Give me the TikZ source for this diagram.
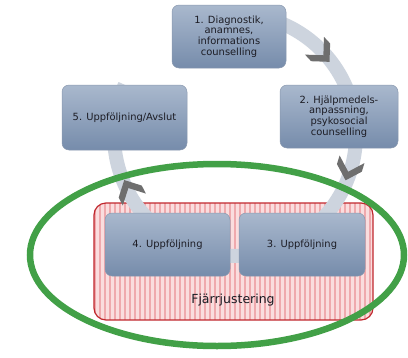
\documentclass[tikz,border=0pt]{standalone}
\usepackage{fontspec}
\setmainfont{DejaVu Sans}
\definecolor{boxtop}{HTML}{A9B8CD}
\definecolor{boxbot}{HTML}{768CAB}
\definecolor{boxedge}{HTML}{8A99AF}
\definecolor{bandcol}{HTML}{CDD4DE}
\definecolor{chevcol}{HTML}{6E6E6E}
\definecolor{ringcol}{HTML}{42A047}
\definecolor{redline}{HTML}{C0272D}
\definecolor{pinkbg}{HTML}{FADDDE}
\definecolor{pinkstripe}{HTML}{EFA9AD}
\definecolor{txt}{HTML}{1C1C24}
\begin{document}
\begin{tikzpicture}[x=1pt,y=-1pt,
  stepbox/.style={rounded corners=7pt, top color=boxtop, bottom color=boxbot,
    draw=boxedge, line width=0.5pt, align=center, text=txt, inner sep=0pt,
    font=\fontsize{9.9}{10.6}\selectfont},
  band/.style={draw=bandcol, line width=14pt},
  chev/.style={fill=chevcol},
  ring/.style={draw=ringcol, line width=6.5pt},
  adjbox/.style={draw=redline, line width=1.2pt, rounded corners=12pt}
]
\useasboundingbox (0,0) rectangle (408,357);
% adjustment area
\begin{scope}
  \clip[rounded corners=12pt] (94,203) rectangle (373,320);
  \fill[pinkbg] (94,203) rectangle (373,320);
  \foreach \i in {0,...,56} {
    \draw[pinkstripe, line width=2.5pt] ({95+5*\i},203) -- ({95+5*\i},320);
  }
\end{scope}
\draw[adjbox] (94,203) rectangle (373,320);
\node[font=\fontsize{12.5}{14}\selectfont, text=txt] (fj) at (233,300) {Fjärrjustering};
% cycle bands
\draw[band] plot[domain=-82:-4, samples=40] ({235+121*cos(\x)},{135+121*sin(\x)});
\draw[band] plot[domain=2:56, samples=30] ({235+121*cos(\x)},{135+121*sin(\x)});
\draw[band] plot[domain=62:118, samples=30] ({235+121*cos(\x)},{135+121*sin(\x)});
\draw[band] plot[domain=124:186, samples=30] ({235+121*cos(\x)},{135+121*sin(\x)});
\draw[band] plot[domain=195:204.5, samples=8] ({235+121*cos(\x)},{135+121*sin(\x)});
% chevrons
\fill[chev, shift={(322,53.8)}, rotate=-47] (11,0) -- (-2,13) -- (-11,13) -- (2,0) -- (-11,-13) -- (-2,-13) -- cycle;
\fill[chev, shift={(348.8,169.8)}, rotate=-107] (11,0) -- (-2,13) -- (-11,13) -- (2,0) -- (-11,-13) -- (-2,-13) -- cycle;
\fill[chev, shift={(129.3,189.8)}, rotate=-242.6] (11,0) -- (-2,13) -- (-11,13) -- (2,0) -- (-11,-13) -- (-2,-13) -- cycle;
% ring
\draw[ring] (217,255) ellipse [x radius=187, y radius=91];
% boxes
\node[stepbox, minimum width=114pt, minimum height=63pt] (s1) at (229,36.5)
  {1. Diagnostik,\\anamnes,\\informations\\counselling};
\node[stepbox, minimum width=118pt, minimum height=63pt] (s2) at (339,116.5)
  {2. Hjälpmedels-\\anpassning,\\psykosocial\\counselling};
\node[stepbox, minimum width=126pt, minimum height=63pt] (s3) at (302,244.5)
  {3. Uppföljning};
\node[stepbox, minimum width=125pt, minimum height=63pt] (s4) at (167.5,244.5)
  {4. Uppföljning};
\node[stepbox, minimum width=125pt, minimum height=65pt] (s5) at (124.5,117.5)
  {5. Uppföljning/Avslut};
\end{tikzpicture}
\end{document}
